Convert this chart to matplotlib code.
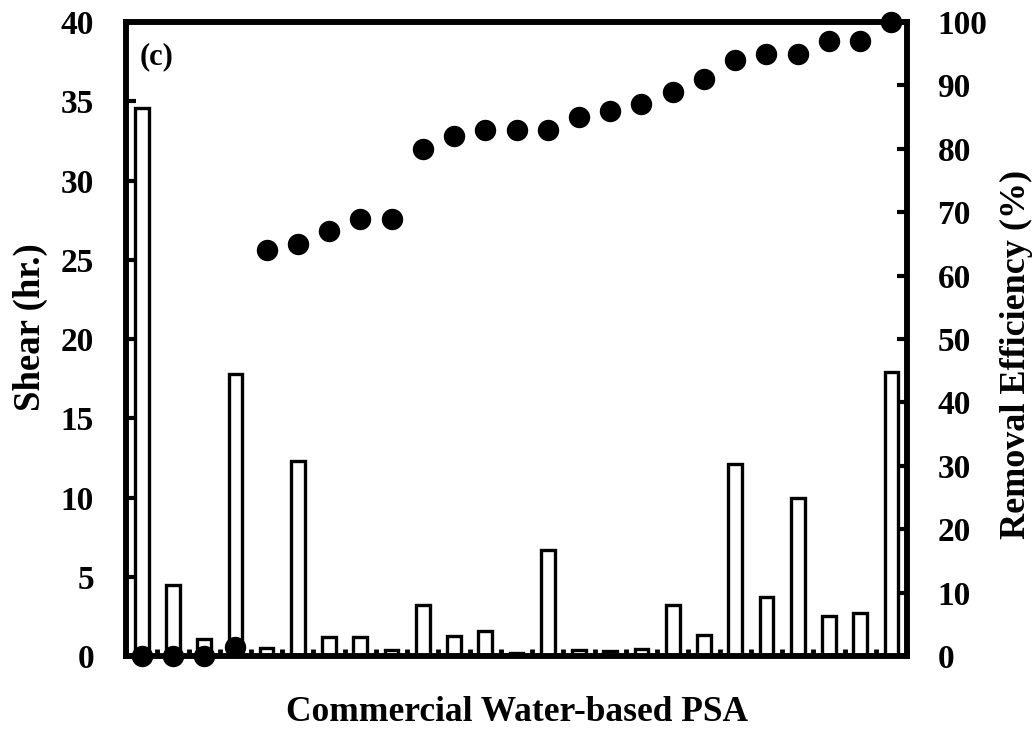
import numpy as np
import matplotlib
matplotlib.use('Agg')
import matplotlib.pyplot as plt

# values
shear = [34.6, 4.5, 1.1, 17.8, 0.5, 12.3, 1.2, 1.2, 0.4, 3.2, 1.25, 1.6, 0.2,
         6.7, 0.35, 0.3, 0.45, 3.2, 1.35, 12.1, 3.75, 10.0, 2.55, 2.7, 17.9]
removal = [0, 0, 0, 1.5, 64, 65, 67, 69, 69, 80, 82, 83, 83, 83, 85, 86, 87,
           89, 91, 94, 95, 95, 97, 97, 100]
shear_ticks = np.arange(0, 41, 5)
removal_ticks = np.arange(0, 101, 10)

plt.rcParams['font.family'] = ['Liberation Serif', 'DejaVu Serif']
plt.rcParams['font.weight'] = 'bold'

x = np.arange(len(shear))

fig = plt.figure(figsize=(10.34, 7.29), dpi=100)
ax1 = fig.add_axes([0.1219, 0.1001, 0.7553, 0.8697])
ax2 = ax1.twinx()

ax1.bar(x, shear, width=0.44, color='white', edgecolor='black', linewidth=2.4)
ax2.plot(x, removal, 'o', color='black', markersize=14.4, clip_on=False)

ax1.set_xlim(-0.5, len(shear) - 0.5)
ax1.set_ylim(0, 40)
ax2.set_ylim(0, 100)
ax1.set_yticks(shear_ticks)
ax2.set_yticks(removal_ticks)
ax1.set_xticks(np.arange(-0.5, len(shear), 1))
ax1.set_xticklabels([])

for ax in (ax1, ax2):
    for s in ax.spines.values():
        s.set_linewidth(4)

ax1.tick_params(axis='y', direction='in', length=7, width=3, pad=23, labelsize=24)
ax2.tick_params(axis='y', direction='in', length=7, width=3, pad=22, labelsize=24)
ax1.tick_params(axis='x', direction='in', length=5, width=3.5)

ax1.set_ylabel('Shear (hr.)', fontsize=26.5, fontweight='bold')
ax2.set_ylabel('Removal Efficiency (%)', fontsize=26, fontweight='bold')
ax1.yaxis.set_label_coords(-0.1, 0.519)
ax2.yaxis.set_label_coords(1.119, 0.475)
ax1.set_xlabel('Commercial Water-based PSA', fontsize=25.5, fontweight='bold', labelpad=25)

ax1.text(0.018, 0.968, '(c)', transform=ax1.transAxes, fontsize=22,
         fontweight='bold', va='top', ha='left')

fig.savefig('out.png', dpi=100)
